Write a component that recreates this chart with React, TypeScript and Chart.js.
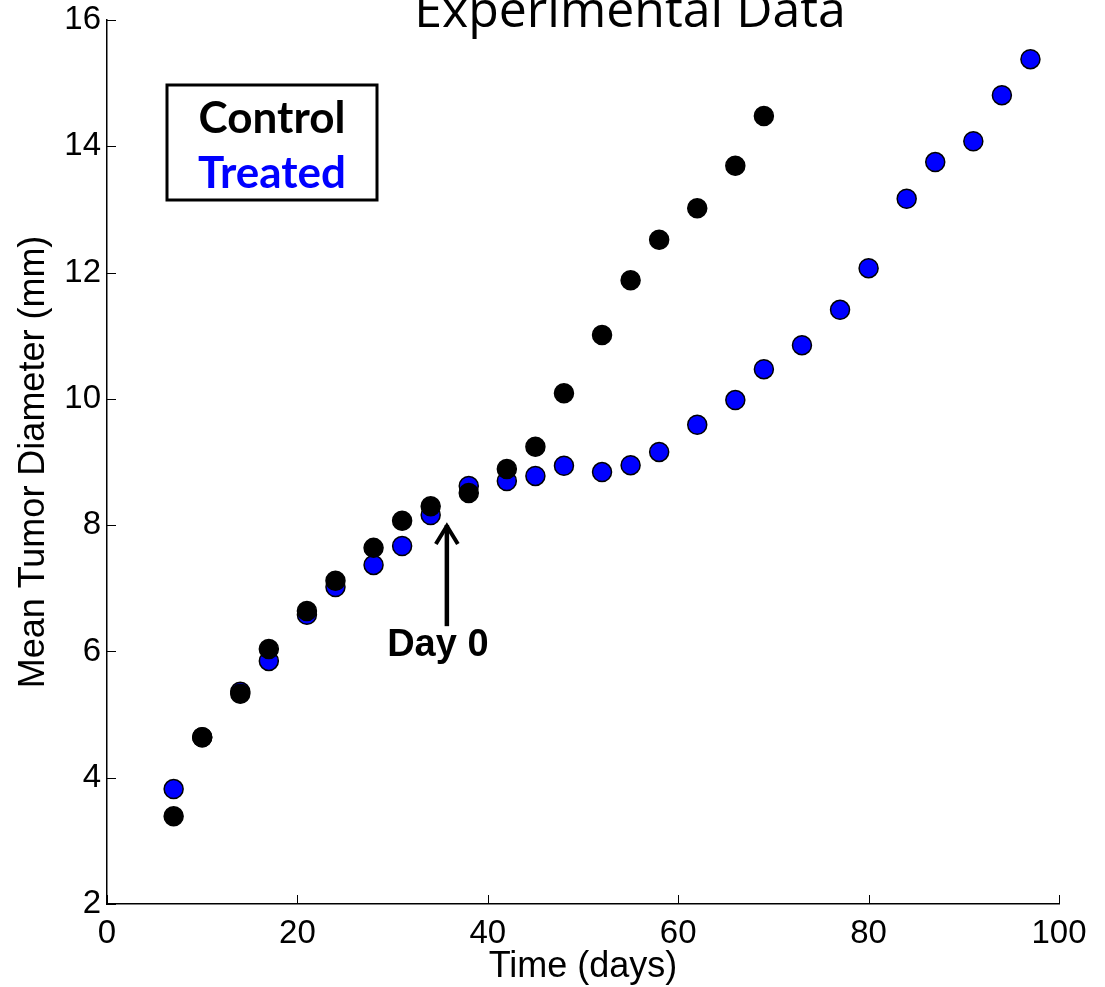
import React, { useEffect, useRef } from "react";
import { Chart, registerables } from "chart.js";

Chart.register(...registerables);

const controlDays = [7, 10, 14, 17, 21, 24, 28, 31, 34, 38, 42, 45, 48, 52, 55, 58, 62, 66, 69];
const controlDiam = [3.39, 4.64, 5.33, 6.04, 6.64, 7.12, 7.64, 8.07, 8.30, 8.51, 8.89, 9.24, 10.09, 11.01, 11.88, 12.52, 13.02, 13.69, 14.48];

const treatedDays = [7, 10, 14, 17, 21, 24, 28, 31, 34, 38, 42, 45, 48, 52, 55, 58, 62, 66, 69, 73, 77, 80, 84, 87, 91, 94, 97];
const treatedDiam = [3.82, 4.64, 5.36, 5.85, 6.58, 7.02, 7.37, 7.67, 8.16, 8.62, 8.70, 8.78, 8.94, 8.84, 8.95, 9.16, 9.59, 9.98, 10.47, 10.85, 11.41, 12.07, 13.17, 13.75, 14.08, 14.81, 15.38];

const xTicks = [0, 20, 40, 60, 80, 100];
const yTicks = [2, 4, 6, 8, 10, 12, 14, 16];

const titleText = "Experimental Data";
const xTitle = "Time (days)";
const yTitle = "Mean Tumor Diameter (mm)";
const legendLabels = ["Control", "Treated"];
const legendColors = ["#000000", "#0000ff"];
const annotationText = "Day 0";
const annotationDay = 35.7;
const annotationTipY = 8.05;
const annotationTailY = 6.4;

const helv = "'Liberation Sans', Arial, Helvetica, sans-serif";

const decorPlugin = {
  id: "decor",
  afterDraw(chart: any) {
    const ctx = chart.ctx;
    const xs = chart.scales.x;
    const ys = chart.scales.y;
    const area = chart.chartArea;
    ctx.save();
    // inward ticks
    ctx.strokeStyle = "#000";
    ctx.lineWidth = 1;
    xTicks.forEach((v) => {
      const px = Math.round(xs.getPixelForValue(v)) + 0.5;
      ctx.beginPath();
      ctx.moveTo(px, area.bottom);
      ctx.lineTo(px, area.bottom - 9);
      ctx.stroke();
    });
    yTicks.forEach((v) => {
      const py = Math.round(ys.getPixelForValue(v)) + 0.5;
      ctx.beginPath();
      ctx.moveTo(area.left, py);
      ctx.lineTo(area.left + 9, py);
      ctx.stroke();
    });
    // title (partially clipped above)
    ctx.fillStyle = "#000";
    ctx.font = "50px 'Open Sans', sans-serif";
    ctx.textAlign = "center";
    ctx.textBaseline = "alphabetic";
    ctx.fillText(titleText, 630, 27);
    // legend box
    ctx.lineWidth = 3;
    ctx.strokeStyle = "#000";
    ctx.fillStyle = "#fff";
    ctx.fillRect(167, 85, 210, 115);
    ctx.strokeRect(167, 85, 210, 115);
    ctx.font = "bold 44px Lato, 'Open Sans', sans-serif";
    ctx.textAlign = "center";
    ctx.fillStyle = legendColors[0];
    ctx.fillText(legendLabels[0], 272, 133);
    ctx.fillStyle = legendColors[1];
    ctx.fillText(legendLabels[1], 272, 188);
    // arrow
    const ax = xs.getPixelForValue(annotationDay);
    const tipY = ys.getPixelForValue(annotationTipY);
    const tailY = ys.getPixelForValue(annotationTailY);
    ctx.strokeStyle = "#000";
    ctx.lineWidth = 4.5;
    ctx.lineCap = "butt";
    ctx.beginPath();
    ctx.moveTo(ax, tailY);
    ctx.lineTo(ax, tipY + 3);
    ctx.stroke();
    ctx.lineJoin = "miter";
    ctx.lineWidth = 4;
    ctx.beginPath();
    ctx.moveTo(ax - 11, tipY + 22);
    ctx.lineTo(ax, tipY + 4);
    ctx.lineTo(ax + 11, tipY + 22);
    ctx.stroke();
    ctx.fillStyle = "#000";
    ctx.font = "bold 38px " + helv;
    ctx.textAlign = "center";
    ctx.fillText(annotationText, ax - 9, tailY + 30);
    ctx.restore();
  },
};

export default function App() {
  const ref = useRef<HTMLCanvasElement | null>(null);
  useEffect(() => {
    if (!ref.current) return;
    const chart = new Chart(ref.current, {
      type: "scatter",
      data: {
        datasets: [
          {
            label: legendLabels[0],
            data: controlDays.map((d, i) => ({ x: d, y: controlDiam[i] })),
            backgroundColor: legendColors[0],
            borderColor: "#000",
            borderWidth: 1.5,
            pointRadius: 9.5,
          },
          {
            label: legendLabels[1],
            data: treatedDays.map((d, i) => ({ x: d, y: treatedDiam[i] })),
            backgroundColor: legendColors[1],
            borderColor: "#000",
            borderWidth: 1.5,
            pointRadius: 9.5,
          },
        ],
      },
      options: {
        animation: false,
        responsive: false,
        maintainAspectRatio: false,
        layout: { padding: { left: 0, right: 46, top: 20, bottom: 0 } },
        plugins: {
          legend: { display: false },
          tooltip: { enabled: false },
          title: { display: false },
        },
        scales: {
          x: {
            type: "linear",
            min: 0,
            max: 100,
            afterBuildTicks: (s: any) => {
              s.ticks = xTicks.map((v) => ({ value: v }));
            },
            afterFit: (s: any) => {
              s.height = 83;
              s.paddingLeft = 0;
              s.paddingRight = 0;
            },
            grid: { display: false, drawTicks: false },
            border: { display: true, color: "#000", width: 1.5 },
            ticks: {
              color: "#000",
              font: { family: helv, size: 33 },
              padding: 10,
              maxRotation: 0,
              autoSkip: false,
            },
            title: {
              display: true,
              text: xTitle,
              color: "#000",
              font: { family: helv, size: 36 },
              padding: { top: 0, bottom: -2 },
            },
          },
          y: {
            type: "linear",
            min: 2,
            max: 16,
            afterBuildTicks: (s: any) => {
              s.ticks = yTicks.map((v) => ({ value: v }));
            },
            afterFit: (s: any) => {
              s.width = 107;
              s.paddingTop = 0;
              s.paddingBottom = 0;
            },
            grid: { display: false, drawTicks: false },
            border: { display: true, color: "#000", width: 1.5 },
            ticks: {
              color: "#000",
              font: { family: helv, size: 33 },
              padding: 6,
              autoSkip: false,
            },
            title: {
              display: true,
              text: yTitle,
              color: "#000",
              font: { family: helv, size: 36 },
              padding: { top: 12, bottom: 0 },
            },
          },
        },
      },
      plugins: [decorPlugin],
    } as any);
    return () => chart.destroy();
  }, []);
  return (
    <div style={{ position: "fixed", left: 0, top: 0, width: 1105, height: 987, background: "#fff" }}>
      <canvas ref={ref} width={1105} height={987} style={{ display: "block", width: 1105, height: 987 }} />
    </div>
  );
}
